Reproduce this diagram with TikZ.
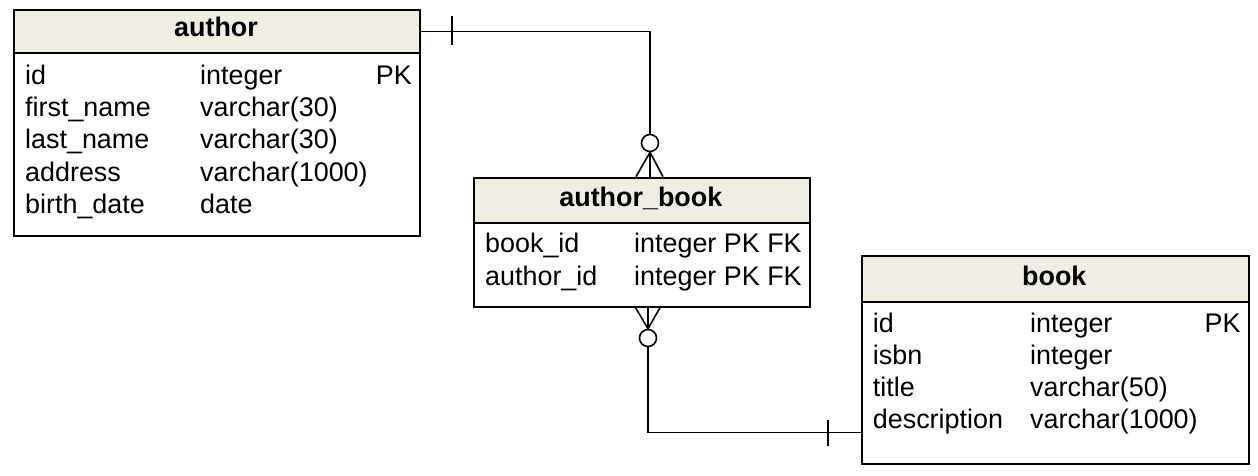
\documentclass[tikz,border=0pt]{standalone}
\usepackage{fontspec}
\setmainfont{Liberation Sans}
\definecolor{hdrfill}{RGB}{240,237,226}
\tikzset{
  hdr/.style={draw=black, line width=2pt, fill=hdrfill, rectangle, inner sep=0pt, anchor=north west},
  bodybox/.style={draw=black, line width=2pt, fill=white, rectangle, inner sep=0pt, anchor=north west},
  hdrtxt/.style={font=\fontsize{26.9pt}{32pt}\selectfont\bfseries, inner sep=0pt, anchor=base},
  txt/.style={font=\fontsize{26.9pt}{32pt}\selectfont, inner sep=0pt, anchor=base west},
  txtr/.style={font=\fontsize{26.9pt}{32pt}\selectfont, inner sep=0pt, anchor=base east},
  conn/.style={draw=black, line width=1.6pt},
  ring/.style={circle, draw=black, line width=1.6pt, fill=white, minimum size=17pt, inner sep=0pt}
}
\begin{document}
\begin{tikzpicture}[x=1pt,y=-1pt]
\useasboundingbox (0,0) rectangle (1258,476);
% ---------- author ----------
\node[bodybox, minimum width=406pt, minimum height=183pt] (authorbody) at (13,52) {};
\node[hdr, minimum width=406pt, minimum height=43pt] (authorhead) at (13,9) {};
\node[hdrtxt] (authort) at (216,37) {author};
\node[txt] (a1n) at (25,85) {id};
\node[txt] (a1t) at (200,85) {integer};
\node[txtr] (a1k) at (412,85) {PK};
\node[txt] (a2n) at (25,117) {first\_name};
\node[txt] (a2t) at (200,117) {varchar(30)};
\node[txt] (a3n) at (25,149) {last\_name};
\node[txt] (a3t) at (200,149) {varchar(30)};
\node[txt] (a4n) at (25,181) {address};
\node[txt] (a4t) at (200,181) {varchar(1000)};
\node[txt] (a5n) at (25,213) {birth\_date};
\node[txt] (a5t) at (200,213) {date};
% ---------- author_book ----------
\node[bodybox, minimum width=336pt, minimum height=84.3pt] (abbody) at (472.7,221.7) {};
\node[hdr, minimum width=336pt, minimum height=45pt] (abhead) at (472.7,176.7) {};
\node[hdrtxt] (abt) at (640.8,206) {author\_book};
\node[txt] (b1n) at (485,252) {book\_id};
\node[txt] (b1t) at (634,252) {integer PK FK};
\node[txt] (b2n) at (485,285) {author\_id};
\node[txt] (b2t) at (634,285) {integer PK FK};
% ---------- book ----------
\node[bodybox, minimum width=387.3pt, minimum height=162pt] (bookbody) at (860.7,300.7) {};
\node[hdr, minimum width=387.3pt, minimum height=45.7pt] (bookhead) at (860.7,255) {};
\node[hdrtxt] (bookt) at (1054.3,285) {book};
\node[txt] (c1n) at (872.7,332) {id};
\node[txt] (c1t) at (1030,332) {integer};
\node[txtr] (c1k) at (1240.7,332) {PK};
\node[txt] (c2n) at (872.7,364) {isbn};
\node[txt] (c2t) at (1030,364) {integer};
\node[txt] (c3n) at (872.7,396) {title};
\node[txt] (c3t) at (1030,396) {varchar(50)};
\node[txt] (c4n) at (872.7,428) {description};
\node[txt] (c4t) at (1030,428) {varchar(1000)};
% ---------- connector author -> author_book ----------
\coordinate (abtop) at (650,176.7);
\coordinate (abtopL) at (636,176.7);
\coordinate (abtopR) at (663,176.7);
\node[ring] (o1) at (650,143) {};
\draw[conn] (authorhead.east) -| (o1.north);
\draw[conn] (o1.south) -- (abtop);
\draw[conn] (o1.south) -- (abtopL);
\draw[conn] (o1.south) -- (abtopR);
\draw[conn] (452,16) -- (452,45);
% ---------- connector author_book -> book ----------
\coordinate (abbot) at (648,306);
\coordinate (abbotL) at (634.5,306);
\coordinate (abbotR) at (661,306);
\coordinate (bookin) at (860.7,432.5);
\node[ring] (o2) at (648,338) {};
\draw[conn] (abbot) -- (o2.north);
\draw[conn] (abbotL) -- (o2.north);
\draw[conn] (abbotR) -- (o2.north);
\draw[conn] (o2.south) |- (bookin);
\draw[conn] (828,420) -- (828,446);
\end{tikzpicture}
\end{document}
